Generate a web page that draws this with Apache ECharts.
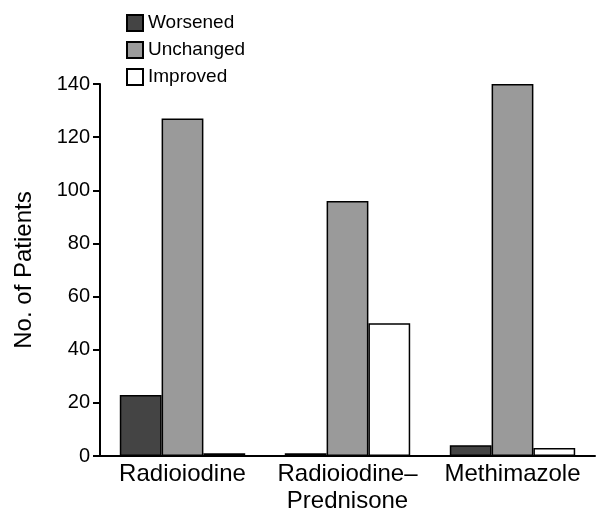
<!DOCTYPE html>
<html>
<head>
<meta charset="utf-8">
<script src="https://cdn.jsdelivr.net/npm/echarts@6/dist/echarts.min.js"></script>
<style>
  html, body { margin: 0; padding: 0; background: #fff; }
  #main { width: 596px; height: 514px; }
</style>
</head>
<body>
<div id="main"></div>
<script>
// data
var categories = ['Radioiodine', 'Radioiodine\u2013\nPrednisone', 'Methimazole'];
var worsened = [23, 1, 4];
var unchanged = [127, 96, 140];
var improved = [1, 50, 3];
var yTicks = [0, 20, 40, 60, 80, 100, 120, 140];

var chart = echarts.init(document.getElementById('main'));
var font = 'Liberation Sans, Arial, sans-serif';

function bar(name, data, color){
  return {
    name: name,
    type: 'bar',
    data: data,
    barGap: '0%',
    barCategoryGap: '24%',
    itemStyle: { color: color, borderColor: '#000', borderWidth: 1.5 },
    emphasis: { disabled: true }
  };
}

chart.setOption({
  animation: false,
  textStyle: { fontFamily: font, color: '#000' },
  legend: {
    orient: 'vertical',
    left: 121,
    top: 8,
    itemWidth: 16,
    itemHeight: 16,
    itemGap: 7,
    icon: 'rect',
    textStyle: { fontSize: 19, color: '#000', fontFamily: font, lineHeight: 20 },
    data: ['Worsened', 'Unchanged', 'Improved']
  },
  grid: { left: 100, right: 1, top: 84, bottom: 58, containLabel: false, outerBoundsMode: 'none' },
  xAxis: {
    type: 'category',
    data: categories,
    axisLine: { lineStyle: { color: '#000', width: 2 } },
    axisTick: { show: false },
    axisLabel: {
      interval: 0, hideOverlap: false,
      fontSize: 24, color: '#000', fontFamily: font, margin: 5, lineHeight: 27
    }
  },
  yAxis: {
    type: 'value',
    min: 0,
    max: 140,
    interval: 20,
    name: 'No. of Patients',
    nameLocation: 'middle',
    nameGap: 64,
    nameTextStyle: { fontSize: 24, color: '#000', fontFamily: font },
    axisLine: { show: true, lineStyle: { color: '#000', width: 2 } },
    axisTick: { show: true, length: 7, lineStyle: { color: '#000', width: 2 } },
    axisLabel: {
      fontSize: 20, color: '#000', fontFamily: font, margin: 10,
      formatter: function(v){ return yTicks.indexOf(v) >= 0 ? String(v) : ''; }
    },
    splitLine: { show: false }
  },
  series: [
    bar('Worsened', worsened, '#444444'),
    bar('Unchanged', unchanged, '#9a9a9a'),
    bar('Improved', improved, '#ffffff')
  ]
});
</script>
</body>
</html>
